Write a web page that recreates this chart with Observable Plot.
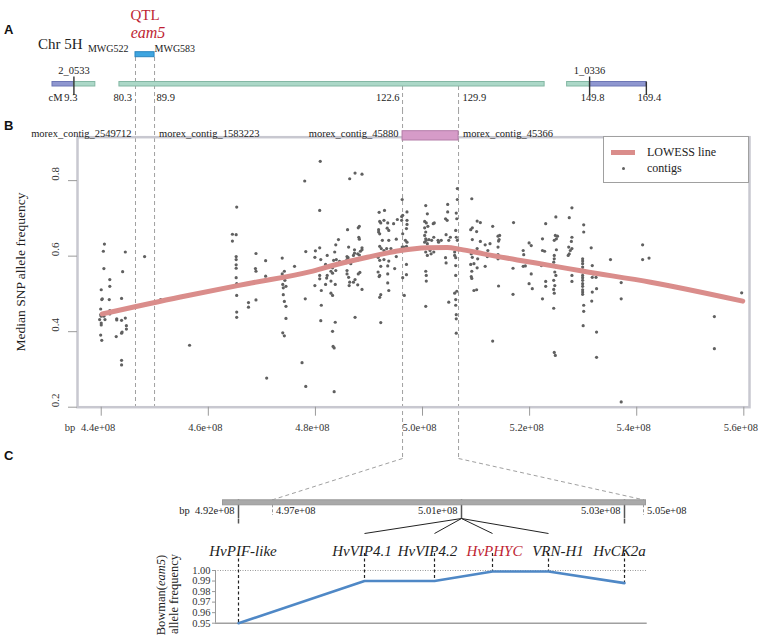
<!DOCTYPE html>
<html><head><meta charset="utf-8">
<script src="https://cdn.jsdelivr.net/npm/d3@7"></script>
<script src="https://cdn.jsdelivr.net/npm/@observablehq/plot@0.6"></script>
<style>
html,body{margin:0;padding:0;background:#fff;}
#fig{position:relative;width:758px;height:641px;overflow:hidden;font-family:"Liberation Serif","Times New Roman",serif;color:#222;}
#fig svg{position:absolute;left:0;overflow:visible;background:transparent;}
.lbl{position:absolute;white-space:nowrap;line-height:1;}
.panel{font-family:"Liberation Sans",Arial,sans-serif;font-weight:bold;font-size:13px;color:#111;}
.rot{transform:translate(-50%,-50%) rotate(-90deg);}
</style></head><body><div id="fig"></div>
<script>
// ---------------- DATA ----------------
// Panel B: x positions in Mb (1e6 bp)
const xTicksMb = [440, 460, 480, 500, 520, 540, 560];
const yTicks = [0.2, 0.4, 0.6, 0.8];
// contigs: [position Mb, median SNP allele frequency]
const contigPoints = [
[440.6,.632],[440.4,.613],[440.5,.567],[440.0,.511],[440.1,.485],[440.2,.487],[439.9,.460],[439.9,.445],[440.0,.441],[439.7,.432],
[440.0,.423],[440.0,.418],[439.9,.391],[440.1,.377],[440.7,.432],[440.5,.441],[441.6,.538],[441.6,.520],[441.5,.485],[441.6,.456],
[441.6,.447],[442.9,.434],[442.9,.431],[442.8,.387],[443.8,.430],[443.9,.399],[443.8,.396],[444.5,.436],[444.7,.416],[444.7,.407],
[443.8,.488],[444.0,.559],[444.5,.611],[443.8,.324],[443.8,.312],[448.1,.599],[451.1,.485],[456.5,.364],
[465.3,.730],[464.5,.658],[465.2,.657],[464.5,.640],[465.2,.599],[465.2,.591],[465.2,.577],[465.2,.568],[465.2,.543],[465.3,.527],
[465.3,.496],[465.3,.452],[465.3,.438],[467.5,.477],[467.5,.465],[468.9,.607],[468.8,.567],[468.9,.560],[468.9,.484],[470.7,.588],
[470.7,.547],[470.9,.277],[473.8,.595],[473.8,.553],[474.2,.560],[474.0,.544],[474.3,.536],[473.9,.525],[474.5,.520],[474.0,.516],
[474.0,.498],[474.2,.480],[474.5,.467],[474.5,.435],[473.9,.397],[474.2,.389],[476.1,.573],[478.2,.612],[477.5,.318],[478.2,.255],
[478.0,.799],[478.1,.487],
[480.9,.851],[480.8,.721],[486.4,.805],[487.4,.820],[488.7,.817],
[480.0,.614],[480.8,.622],[479.9,.597],[481.0,.591],[482.2,.602],[481.9,.578],[483.4,.589],[483.9,.591],[483.6,.611],[483.8,.630],
[484.3,.644],[484.5,.586],[483.0,.573],[483.2,.569],[483.8,.562],[483.2,.555],[482.9,.560],[480.8,.549],[480.8,.540],[482.2,.549],
[482.1,.542],[481.9,.525],[481.1,.509],[479.9,.522],[482.9,.534],[483.7,.525],[482.9,.502],[483.2,.496],[481.1,.470],[481.0,.429],
[483.7,.425],[483.2,.401],[483.3,.361],[483.5,.357],[483.5,.241],
[486.0,.670],[488.0,.675],[488.2,.679],[488.1,.650],[488.2,.645],[486.2,.624],[487.3,.617],[485.9,.599],[486.1,.596],[485.9,.591],
[485.8,.583],[486.6,.580],[487.3,.608],[487.1,.602],[487.9,.606],[488.4,.613],[488.7,.622],[488.7,.617],[488.2,.603],[487.8,.589],
[485.9,.562],[485.9,.553],[486.2,.544],[486.4,.531],[487.1,.531],[487.4,.538],[486.3,.522],[488.0,.553],[488.3,.557],[487.9,.524],
[488.7,.512],[487.4,.438],
[491.9,.716],[492.9,.721],[492.0,.692],[492.2,.688],[492.8,.695],[493.5,.688],[493.4,.674],[493.7,.668],[491.8,.670],[491.8,.664],
[492.0,.659],[492.5,.642],[493.7,.642],[492.0,.626],[492.3,.620],[492.8,.615],[493.3,.620],[494.1,.620],[495.1,.645],[495.3,.697],
[496.1,.705],[496.1,.695],[494.6,.686],[491.7,.597],[492.0,.589],[492.8,.591],[493.7,.587],[493.5,.574],[492.2,.573],[491.7,.558],
[492.0,.549],[491.9,.546],[493.5,.553],[493.5,.529],[493.7,.509],[492.2,.498],[492.0,.491],[494.8,.567],[495.1,.599],[492.2,.424],
[496.2,.750],[496.3,.708],[497.1,.717],[497.1,.695],[497.1,.684],[497.0,.673],[496.3,.659],[496.8,.642],[497.1,.637],[497.0,.626],
[496.2,.624],[496.5,.624],[497.0,.578],[497.0,.551],[496.3,.543],[496.6,.496],
[500.6,.734],[500.9,.712],[500.4,.692],[500.7,.688],[501.0,.679],[500.4,.675],[500.6,.664],[500.4,.655],[500.6,.646],[500.7,.642],
[500.4,.637],[500.9,.633],[501.2,.644],[501.7,.642],[502.1,.650],[502.0,.686],[502.2,.688],[501.4,.615],[500.6,.611],[500.9,.602],
[502.1,.611],[501.6,.606],[500.6,.560],[500.7,.549],[500.7,.534],[500.6,.467],[502.9,.642],[503.5,.642],[503.0,.637],
[504.7,.737],[504.7,.717],[504.3,.699],[504.6,.695],[504.9,.642],[504.4,.657],[505.2,.650],[504.3,.596],[504.4,.582],[504.9,.478],
[506.5,.779],[506.5,.750],[506.3,.714],[506.4,.699],[506.2,.668],[506.3,.650],[506.5,.642],[506.0,.611],[506.0,.602],[506.2,.596],
[506.2,.575],[506.2,.549],[506.4,.507],[506.0,.502],[506.2,.485],[506.2,.470],[506.3,.445],[506.3,.434],[506.3,.396],
[509.2,.752],[509.0,.670],[509.3,.675],[510.2,.693],[510.8,.689],[510.1,.665],[509.3,.644],[510.8,.639],[510.2,.620],[509.1,.606],
[509.3,.597],[510.3,.593],[509.0,.578],[509.6,.580],[510.2,.569],[509.2,.560],[509.1,.546],[509.2,.541],[509.6,.509],[510.1,.511],
[511.7,.630],[512.6,.633],[513.1,.679],[512.2,.615],[511.7,.573],[512.1,.599],[514.1,.653],[514.4,.655],[514.3,.644],[514.2,.640],
[514.1,.624],[514.1,.604],[514.1,.593],[514.2,.521],[513.1,.375],
[517.0,.689],[516.9,.568],[516.9,.499],[518.8,.615],[518.9,.604],[518.8,.573],[519.2,.574],[519.9,.635],[520.3,.628],[520.3,.553],
[519.9,.527],[520.5,.514],
[523.0,.686],[522.4,.646],[522.4,.615],[522.8,.613],[522.2,.575],[523.0,.533],[523.0,.520],[522.4,.487],
[524.9,.704],[524.8,.655],[525.2,.653],[524.6,.642],[525.0,.646],[525.0,.617],[524.6,.602],[524.6,.593],[524.5,.584],[524.7,.575],
[525.0,.571],[524.7,.558],[524.9,.549],[524.5,.536],[524.7,.522],[524.5,.512],[524.6,.502],[524.5,.462],[524.6,.345],[524.8,.337],
[527.9,.728],[527.4,.702],[527.9,.650],[527.8,.639],[527.3,.624],[527.6,.615],[527.9,.620],[527.2,.602],[527.4,.606],[527.9,.549],
[527.9,.533],
[530.1,.683],[530.1,.664],[529.9,.593],[529.9,.587],[529.9,.580],[529.9,.571],[529.9,.564],[529.9,.558],[529.9,.549],[529.9,.543],
[529.9,.536],[529.9,.527],[529.9,.520],[529.9,.511],[529.9,.505],[529.9,.499],[530.1,.470],[530.1,.454],[530.0,.416],
[531.5,.622],[531.7,.575],[531.9,.553],[532.4,.544],[531.7,.544],[532.5,.514],[531.7,.505],[531.6,.481],[532.5,.399],[532.5,.332],
[535.1,.591],[537.1,.530],[537.1,.487],[537.1,.214],[541.1,.630],[541.1,.591],[542.3,.595],[554.5,.440],[554.5,.355],[559.6,.503]
];
const lowessMb   = [440.2, 454.8, 467.3, 479.1, 483.4, 489.7, 495.9, 500.9, 504.6, 507.1, 511.4, 517.7, 524.0, 530.1, 542.6, 559.8];
const lowessFreq = [0.447, 0.492, 0.527, 0.559, 0.576, 0.597, 0.615, 0.622, 0.623, 0.618, 0.606, 0.590, 0.575, 0.560, 0.531, 0.481];

// Panel A: schematic chromosome 5H (aligned to bp axis, Mb)
const chrSegStart = [430.9, 434.9, 443.4, 527.0, 531.2];
const chrSegEnd   = [434.9, 438.9, 522.8, 531.2, 541.8];
const chrSegKind  = ["distal", "proximal", "proximal", "proximal", "distal"];
const chrGapStart = [438.9, 522.8];
const chrGapEnd   = [443.4, 527.0];
const markerNames = ["2_0533", "1_0336"];
const markerMb    = [434.9, 531.2];
const chrEndMb    = 541.8;
const cMValues    = ["9.3", "80.3", "89.9", "122.6", "129.9", "149.8", "169.4"];
const cMMb        = [434.9, 446.4, 449.96, 496.27, 506.73, 531.2, 541.8];
const qtlMarkers  = ["MWG522", "MWG583"];
const qtlMb       = [446.4, 449.96];
const anchorContigs = ["morex_contig_2549712", "morex_contig_1583223", "morex_contig_45880", "morex_contig_45366"];
const anchorMb      = [446.4, 449.96, 496.27, 506.73];

// Panel C
const zoomTicksMb = [492, 497, 501, 503, 505];
const genes      = ["HvPIF-like", "HvVIP4.1", "HvVIP4.2", "HvPHYC", "VRN-H1", "HvCK2a"];
const geneMb     = [492, 501, 501, 501, 501, 503];
const bowmanFreq = [0.950, 0.990, 0.990, 0.999, 0.999, 0.988];
const cTicks     = [0.95, 0.96, 0.97, 0.98, 0.99, 1.00];

// ---------------- LAYOUT / STYLE ----------------
const W = 758;
const SERIF = "Liberation Serif, Times New Roman, serif";
const style = "background: transparent; overflow: visible; font-family: 'Liberation Serif', serif; font-size: 11px;";
const xDomainMb = [435.57, 561.06];
const zoomRange = [238, 272, 461, 624, 643];     // schematic placement of zoom bar ticks (px)
const geneRange = [238, 364, 434, 492, 548, 624]; // schematic placement of gene columns (px)
const RED = "#be1e32", LOWESS = "#da8d8b", DOT = "#606060", DASH = "#a0a0a0";
const cMDx = [-3, -3.5, 2, -3, 4, 3, 3];
const geneLabelDx = [4.5, -2.5, -7, 2, 9.5, -5];
// page bands (top, bottom) for each svg
const bandA = [0, 110], bandB = [110, 460], bandC1 = [460, 537], bandC2 = [537, 641];
const fig = document.getElementById("fig");
const T = o => Object.assign({fontFamily: SERIF, fill: "#222"}, o);
const place = (svg, band) => { svg.style.top = band[0] + "px"; fig.appendChild(svg); };

// ---------- Panel A ----------
const aTop = 81.5 - bandA[0], aBot = 86 - bandA[0], hA = bandA[1] - bandA[0];
const segs = chrSegStart.map((s, i) => ({s, e: chrSegEnd[i], kind: chrSegKind[i]}));
const gaps = chrGapStart.map((s, i) => ({s, e: chrGapEnd[i]}));
const cMAnchor = ["middle", "end", "start", "end", "start", "middle", "middle"];
const plotA = Plot.plot({
  width: W, height: hA, marginLeft: 77, marginRight: 9, marginTop: aTop, marginBottom: hA - aBot,
  x: {domain: xDomainMb, axis: null},
  style,
  marks: [
    Plot.ruleX(qtlMb, {x: d => d, stroke: DASH, strokeDasharray: "4,3", insetTop: -(aTop - 57), insetBottom: -(hA - aBot)}),
    Plot.ruleX(anchorMb.slice(2), {x: d => d, stroke: DASH, strokeDasharray: "4,3", insetTop: (aBot - aTop), insetBottom: -(hA - aBot)}),
    Plot.ruleY(gaps, {x1: "s", x2: "e", stroke: "#333", strokeDasharray: "4,3", strokeWidth: 1.3}),
    Plot.rect(segs, {filter: d => d.kind === "distal", x1: "s", x2: "e", fill: "#8f97d0", stroke: "#6d76b5"}),
    Plot.rect(segs, {filter: d => d.kind === "proximal", x1: "s", x2: "e", fill: "#acd8c8", stroke: "#84b7a4"}),
    Plot.ruleX(markerMb, {x: d => d, insetTop: -5, insetBottom: -9, stroke: "#333", strokeWidth: 1.4}),
    Plot.ruleX([chrEndMb], {x: d => d, insetBottom: -9, stroke: "#333", strokeWidth: 1.4}),
    Plot.text(markerNames, T({x: (d, i) => markerMb[i], text: d => d, frameAnchor: "top", dy: -15.5, fontSize: 10.5})),
    ...["middle", "end", "start"].map(a => Plot.text(cMValues, T({
      filter: (d, i) => cMAnchor[i] === a,
      x: d => cMMb[cMValues.indexOf(d)], text: d => d,
      frameAnchor: "bottom", dy: 14, textAnchor: a, fontSize: 10.5
    }))),
    Plot.text(["cM"], T({x: () => chrSegStart[0], text: d => d, frameAnchor: "bottom", dy: 14, dx: -4, textAnchor: "start", fontSize: 10.5})),
    Plot.rect([qtlMb], {x1: d => d[0], x2: d => d[1], insetTop: -(aTop - 51.7), insetBottom: aBot - 56.7, fill: "#3ea5e0", stroke: "#2984bf"}),
    Plot.text([qtlMarkers[0]], T({x: () => qtlMb[0], text: d => d, frameAnchor: "top", dy: -37.5, dx: -7, textAnchor: "end", fontSize: 10})),
    Plot.text([qtlMarkers[1]], T({x: () => qtlMb[1], text: d => d, frameAnchor: "top", dy: -37.5, dx: 0, textAnchor: "start", fontSize: 10})),
    Plot.text(["QTL"], T({x: () => (qtlMb[0] + qtlMb[1]) / 2, text: d => d, frameAnchor: "top", dy: -(aTop - 9), fill: RED, fontSize: 15})),
    Plot.text(["eam5"], T({x: () => (qtlMb[0] + qtlMb[1]) / 2, text: d => d, frameAnchor: "top", dy: -(aTop - 26), dx: 3, fill: RED, fontSize: 16, fontStyle: "italic"}))
  ]
});

// ---------- Panel B ----------
const hB = bandB[1] - bandB[0];
const bTop = 136.7 - bandB[0], bBot = 406.7 - bandB[0];
const plotB = Plot.plot({
  width: W, height: hB, marginLeft: 77, marginRight: 9, marginTop: bTop, marginBottom: hB - bBot,
  x: {domain: xDomainMb},
  y: {domain: [0.2, 0.915]},
  style,
  marks: [
    Plot.ruleX(qtlMb, {x: d => d, stroke: DASH, strokeDasharray: "4,3", insetTop: -bTop}),
    Plot.ruleX(anchorMb.slice(2), {x: d => d, stroke: DASH, strokeDasharray: "4,3", insetTop: -bTop, insetBottom: -(458 - bandB[0] - bBot)}),
    Plot.dot(contigPoints, {x: d => d[0], y: d => d[1], r: 1.6, fill: DOT}),
    Plot.line(lowessMb.map((m, i) => [m, lowessFreq[i]]), {x: d => d[0], y: d => d[1], stroke: LOWESS, strokeWidth: 5, curve: "monotone-x"}),
    Plot.frame({stroke: "#c8c8d0", strokeWidth: 2.5}),
    Plot.axisX({ticks: xTicksMb, tickSize: 9, tickFormat: () => "", stroke: "#9a9a9a", label: null}),
    Plot.axisY({ticks: yTicks, tickSize: 9, tickFormat: () => "", stroke: "#9a9a9a", label: null}),
    Plot.text(xTicksMb, T({x: d => d, text: d => (d / 100).toFixed(1) + "e+08", frameAnchor: "bottom", dy: 23.3, dx: -3, fill: "#333", fontSize: 10.5})),
    Plot.text(["bp"], T({x: () => xTicksMb[0], text: d => d, frameAnchor: "bottom", dy: 23.3, dx: -26, textAnchor: "end", fill: "#333", fontSize: 10.5})),
    Plot.text(yTicks, T({y: d => d, text: d => d.toFixed(1), frameAnchor: "left", dx: -22, rotate: -90, fill: "#333", fontSize: 11})),
    Plot.rect([[anchorMb[2], anchorMb[3]]], {x1: d => d[0], x2: d => d[1], insetTop: -6, insetBottom: bBot - (140 - bandB[0]), fill: "#d69bc8", stroke: "#b47ca8"}),
    Plot.text(anchorContigs.filter((d, i) => i % 2 === 0), T({x: d => anchorMb[anchorContigs.indexOf(d)], text: d => d, frameAnchor: "top", dy: -7.7, dx: -4, textAnchor: "end", fontSize: 10.5})),
    Plot.text(anchorContigs.filter((d, i) => i % 2 === 1), T({x: d => anchorMb[anchorContigs.indexOf(d)], text: d => d, frameAnchor: "top", dy: -7.7, dx: 4.5, textAnchor: "start", fontSize: 10.5}))
  ]
});

// ---------- Panel C scales ----------
const cxS = Plot.scale({x: {type: "linear", domain: zoomTicksMb, range: zoomRange}});
const geneIdx = genes.map((g, i) => i);
const gxS = Plot.scale({x: {type: "linear", domain: geneIdx, range: geneRange}});
const bx = plotB.scale("x");

// ---------- Panel C (zoom bar + connectors) ----------
const hC1 = bandC1[1] - bandC1[0];
const cBarTop = 499.3 - bandC1[0], cBarBot = 504.3 - bandC1[0], stemEnd = 518 - bandC1[0];
const geneAnchors = Array.from(new Set(geneMb));
const boundaryTicks = zoomTicksMb.filter(t => !geneAnchors.includes(t));
const fmtC = d => (d / 100).toFixed(2) + "e+08";
const connectors = [2, 3].map((k, j) => ({
  x1: cxS.invert(bx.apply(anchorMb[k])), y1: 458 - bandC1[0],
  x2: boundaryTicks[j], y2: cBarTop
}));
const fan = genes.map((g, i) => {
  const shared = geneMb.filter(m => m === geneMb[i]).length > 1;
  return {x1: geneMb[i], y1: stemEnd, x2: cxS.invert(gxS.apply(i)), y2: (shared ? 533 : 523) - bandC1[0], shared};
});
const plotC1 = Plot.plot({
  width: W, height: hC1, marginLeft: 222, marginRight: W - 645, marginTop: cBarTop, marginBottom: hC1 - cBarBot,
  x: {type: "linear", domain: zoomTicksMb, range: zoomRange, axis: null},
  y: {type: "identity"},
  style,
  marks: [
    Plot.link(connectors, {x1: "x1", y1: "y1", x2: "x2", y2: "y2", stroke: DASH, strokeDasharray: "4,3"}),
    Plot.ruleX(geneAnchors, {x: d => d, insetBottom: -(stemEnd - cBarBot), stroke: "#555", strokeWidth: 1.5}),
    Plot.ruleX(boundaryTicks, {x: d => d, insetBottom: -10.7, stroke: "#999", strokeDasharray: "3,2"}),
    Plot.frame({fill: "#a9a9a9", stroke: "#9a9a9a"}),
    Plot.link(fan, {filter: d => !d.shared, x1: "x1", y1: "y1", x2: "x2", y2: "y2", stroke: "#555", strokeWidth: 1.5}),
    Plot.link(fan, {filter: d => d.shared, x1: "x1", y1: "y1", x2: "x2", y2: "y2", stroke: "#222", strokeWidth: 1}),
    Plot.text(geneAnchors, T({x: d => d, text: d => (d === zoomTicksMb[0] ? "bp  " : "") + fmtC(d), frameAnchor: "bottom", dy: 9, dx: -4, textAnchor: "end", fontSize: 10.5})),
    Plot.text(boundaryTicks, T({x: d => d, text: d => fmtC(d), frameAnchor: "bottom", dy: 9, dx: 3.5, textAnchor: "start", fontSize: 10.5}))
  ]
});

// ---------- Panel C (allele frequency) ----------
const hC2 = bandC2[1] - bandC2[0];
const cTop = 570 - bandC2[0], cBot = 622.7 - bandC2[0];
const plotC2 = Plot.plot({
  width: W, height: hC2, marginLeft: 215, marginRight: W - 646.7, marginTop: cTop, marginBottom: hC2 - cBot,
  x: {type: "linear", domain: geneIdx, range: geneRange, axis: null},
  y: {domain: [0.95, 1.00]},
  color: {type: "identity"},
  style,
  marks: [
    Plot.ruleY([cTicks[cTicks.length - 1]], {y: d => d, stroke: "#999", strokeDasharray: "1,1.5"}),
    Plot.ruleY([cTicks[0]], {y: d => d, stroke: "#a0a0a0", strokeWidth: 1.5}),
    Plot.ruleX([geneIdx[0]], {x: d => d, dx: -23, stroke: "#999"}),
    Plot.axisY({ticks: cTicks, tickSize: 3, tickPadding: 2, tickFormat: d => d.toFixed(2), stroke: "#999", fill: "#333", fontSize: 10.5, fontFamily: SERIF, label: null}),
    Plot.ruleX(geneIdx, {x: d => d, y1: () => cTicks[cTicks.length - 1], y2: d => bowmanFreq[d], insetTop: -17, stroke: "#222", strokeDasharray: "3,2.5", strokeWidth: 1.2}),
    Plot.line(geneIdx, {x: d => d, y: d => bowmanFreq[d], stroke: "#4f88c6", strokeWidth: 2.6}),
    Plot.text(genes, T({x: (d, i) => i, text: d => d, frameAnchor: "top", dy: -25, fontStyle: "italic", fontSize: 15, fill: d => d === "HvPHYC" ? RED : "#222"}))
  ]
});

place(plotB, bandB);
place(plotA, bandA);
place(plotC1, bandC1);
place(plotC2, bandC2);

// label nudges, remove empty axis texts
Array.from(plotA.querySelectorAll("text")).forEach(t => {
  const i = cMValues.indexOf(t.textContent);
  if (i >= 0) t.setAttribute("dx", cMDx[i]);
});
Array.from(plotC2.querySelectorAll("text")).forEach(t => {
  const i = genes.indexOf(t.textContent);
  if (i >= 0) t.setAttribute("dx", geneLabelDx[i]);
});
fig.querySelectorAll("svg text").forEach(t => { if (!t.textContent.trim()) t.remove(); });

// ---------- HTML text & legend ----------
fig.insertAdjacentHTML("beforeend", `
<div class="lbl panel" style="left:4px;top:23px">A</div>
<div class="lbl panel" style="left:4px;top:119px">B</div>
<div class="lbl panel" style="left:4px;top:449px">C</div>
<div class="lbl" style="left:38px;top:37px;font-size:15px">Chr 5H</div>
<div class="lbl rot" style="left:21px;top:272px;font-size:13.5px">Median SNP allele frequency</div>
<div class="lbl rot" style="left:161px;top:595px;font-size:12.5px">Bowman(<i>eam5</i>)</div>
<div class="lbl rot" style="left:174px;top:594px;font-size:12.5px">allele frequency</div>
<div style="position:absolute;left:603px;top:136px;width:146px;height:47px;border:1px solid #a0a0a0;box-sizing:border-box;background:#fff">
  <div style="position:absolute;left:7px;top:13px;width:24px;height:5px;background:${LOWESS}"></div>
  <div class="lbl" style="left:43px;top:9px;font-size:12px">LOWESS line</div>
  <div style="position:absolute;left:17.5px;top:30px;width:3px;height:3px;border-radius:50%;background:${DOT}"></div>
  <div class="lbl" style="left:43px;top:25px;font-size:12px">contigs</div>
</div>
`);
</script></body></html>
